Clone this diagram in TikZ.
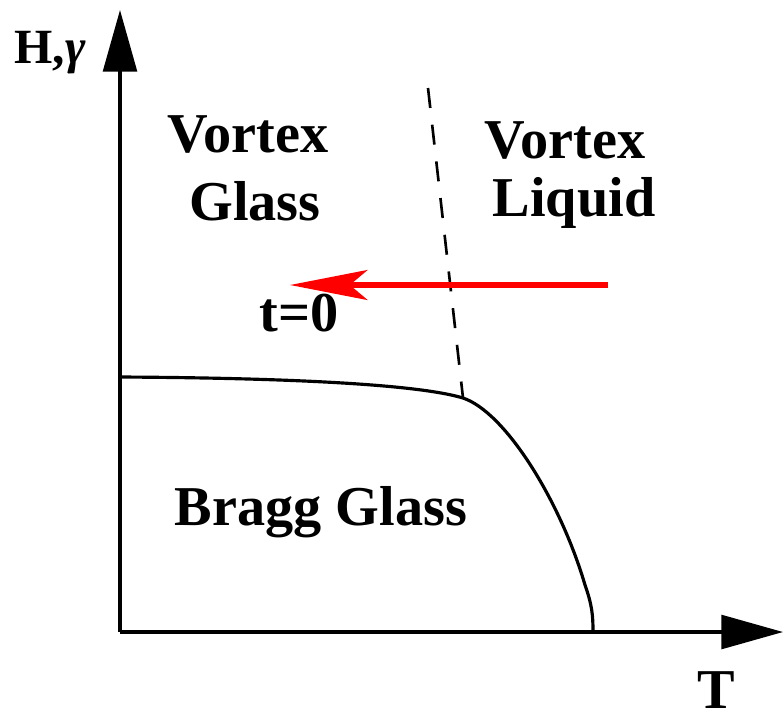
\documentclass[tikz,border=0pt]{standalone}
\usepackage{fontspec}
\setmainfont{Liberation Serif}
\newfontfamily\phasefont{Liberation Serif}[BoldFont={* Bold}, ItalicFont={* Italic}]
\usepackage{tikz}
\usetikzlibrary{arrows.meta,positioning}

\begin{document}
\begin{tikzpicture}[
    x=0.01cm, y=-0.01cm,
    lbl/.style={font=\phasefont\fontsize{16}{19}\selectfont\bfseries, anchor=base, inner sep=0pt},
    axis/.style={line width=0.9pt, -{Triangle[length=17.5pt, width=9.6pt]}},
  ]
  \useasboundingbox (0,0) rectangle (783,715);

  % Axes
  \coordinate (O) at (120,632);
  \coordinate (ytip) at (120,10);
  \coordinate (xtip) at (783,632);
  \draw[axis] (O) -- (ytip);
  \draw[axis] (O) -- (xtip);
  \node[lbl, font=\phasefont\fontsize{14}{16}\selectfont\bfseries] (hlab) at (50,63) {H,\textit{γ}};
  \node[lbl] (tlab) at (716,708) {T};

  % Phase boundary
  \draw[line width=0.9pt] (120,377)
    .. controls (300,378) and (420,385) .. (463,398) coordinate (kink)
    .. controls (505,412) and (560,500) .. (585,585)
    .. controls (592,605) and (593,615) .. (593,632);

  % Glass / liquid crossover
  \coordinate (dtop) at (428,88);
  \draw[line width=0.75pt, dash pattern=on 5.7pt off 4.8pt] (dtop) -- (kink);

  % Regions
  \node[lbl] (vg1) at (248,152) {Vortex};
  \node[lbl] (vg2) at (255,220) {Glass};
  \node[lbl] (vl1) at (565,158) {Vortex};
  \node[lbl] (vl2) at (574,216) {Liquid};
  \node[lbl] (bg) at (321,525) {Bragg Glass};

  % Quench
  \coordinate (qstart) at (608,285);
  \coordinate (qend) at (290,285);
  \draw[red, line width=1.6pt, -{Stealth[length=22pt, width=8.5pt, inset=5pt]}] (qstart) -- (qend);
  \node[lbl] (t0) at (299,331) {t=0};

\end{tikzpicture}
\end{document}
